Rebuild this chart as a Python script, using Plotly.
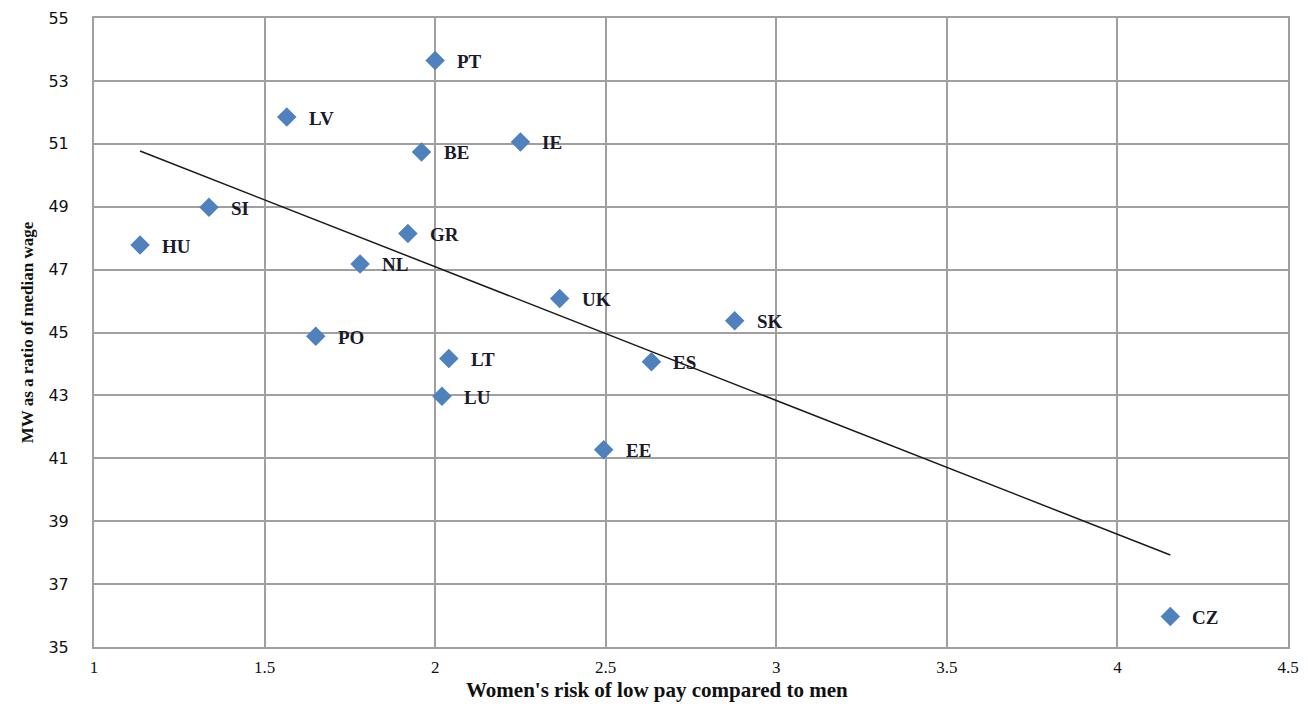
import numpy as np
import plotly.graph_objects as go

countries = ["PT", "LV", "BE", "IE", "SI", "HU", "GR", "NL", "UK", "SK", "PO", "LT", "ES", "LU", "EE", "CZ"]
risk_ratio = [2.00, 1.565, 1.96, 2.25, 1.337, 1.135, 1.92, 1.78, 2.365, 2.878, 1.65, 2.04, 2.634, 2.02, 2.494, 4.155]
mw_ratio = [53.65, 51.85, 50.74, 51.06, 48.98, 47.78, 48.15, 47.18, 46.08, 45.37, 44.88, 44.17, 44.07, 42.97, 41.27, 35.97]

x_ticks = [1, 1.5, 2, 2.5, 3, 3.5, 4, 4.5]
y_ticks = [35, 37, 39, 41, 43, 45, 47, 49, 51, 53, 55]

slope, intercept = np.polyfit(risk_ratio, mw_ratio, 1)
trend_x = [min(risk_ratio), max(risk_ratio)]
trend_y = [slope * v + intercept for v in trend_x]

fig = go.Figure()
fig.add_trace(go.Scatter(
    x=trend_x, y=trend_y, mode="lines",
    line=dict(color="#1a1a1a", width=1.5), hoverinfo="skip", showlegend=False))
fig.add_trace(go.Scatter(
    x=risk_ratio, y=mw_ratio, mode="markers",
    marker=dict(symbol="diamond", size=15, color="#4F81BD"),
    showlegend=False))

for c, xv, yv in zip(countries, risk_ratio, mw_ratio):
    fig.add_annotation(x=xv, y=yv, text="<b>" + c + "</b>", showarrow=False, xanchor="left",
                       yanchor="middle", xshift=20, yshift=-1,
                       font=dict(family="Liberation Serif", size=19, color="#1a1a2a"))

fig.add_annotation(xref="paper", yref="paper", x=0.4715, y=0, yshift=-43,
                   xanchor="center", yanchor="middle", showarrow=False,
                   text="<b>Women's risk of low pay compared to men</b>",
                   font=dict(family="Liberation Serif", size=21, color="#111111"))

axis_common = dict(showgrid=True, gridcolor="#a0a0a0", gridwidth=2,
                   showline=True, linecolor="#a0a0a0", linewidth=2, mirror=True,
                   zeroline=False, ticks="", automargin=False)

fig.update_xaxes(range=[1, 4.5], tickvals=x_ticks, ticktext=[str(v) for v in x_ticks],
                 tickfont=dict(family="Liberation Serif", size=17, color="#111111"),
                 ticklabelstandoff=4,
                 **axis_common)
fig.update_yaxes(range=[35, 55], tickvals=y_ticks,
                 tickfont=dict(family="DejaVu Sans", size=16, color="#111111"),
                 ticklabelstandoff=20,
                 title=dict(text="<b>MW as a ratio of median wage</b>",
                            font=dict(family="Liberation Serif", size=17, color="#111111"),
                            standoff=10),
                 **axis_common)

fig.update_layout(width=1300, height=699, plot_bgcolor="white", paper_bgcolor="white",
                  margin=dict(l=86, r=20, t=10, b=60))

fig.write_html("out.html")
